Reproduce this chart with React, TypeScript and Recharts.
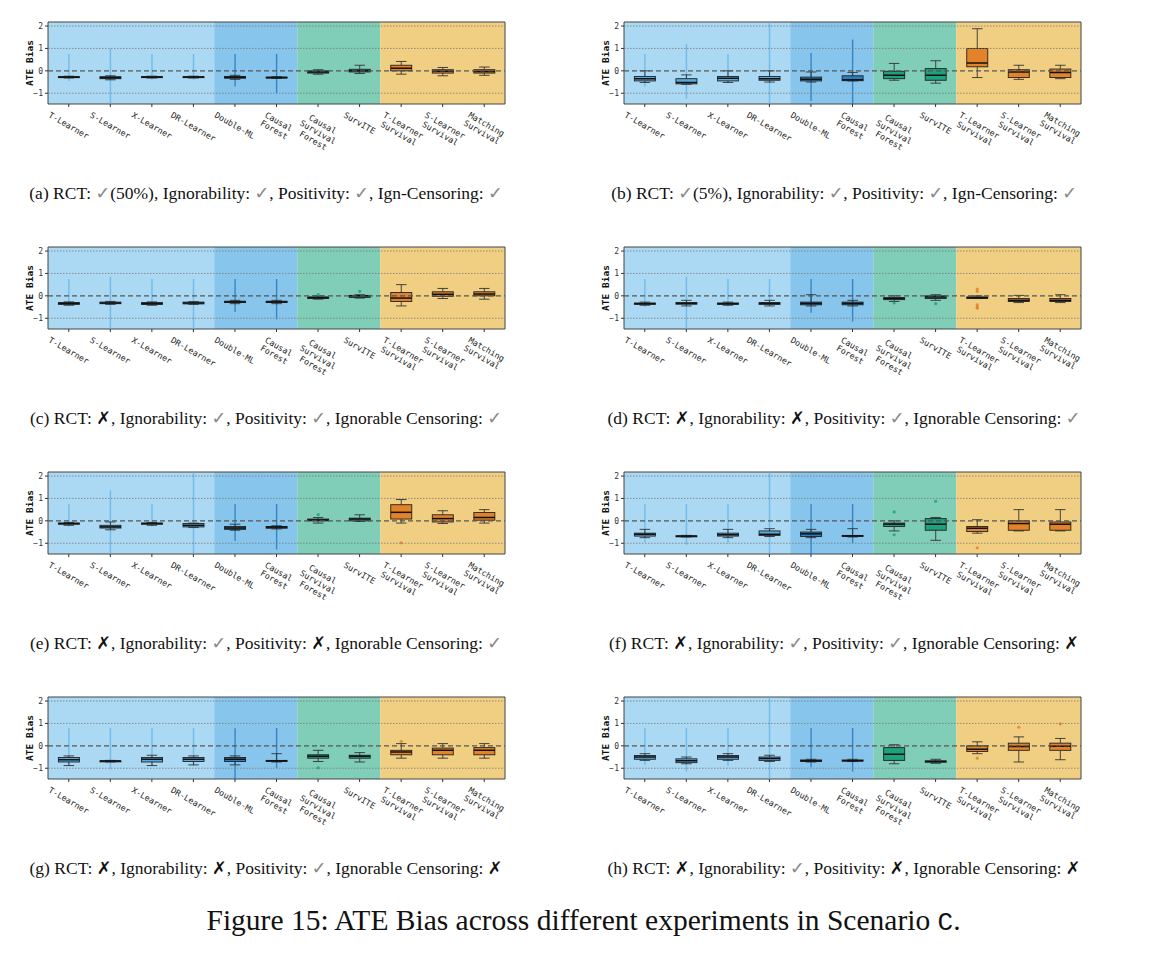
import React from 'react'
import { Bar, ComposedChart, ReferenceArea, ReferenceLine, XAxis, YAxis } from 'recharts'

// categories and their colour groups
const methods = [
    'T-Learner', 'S-Learner', 'X-Learner', 'DR-Learner', 'Double-ML', 'Causal\nForest',
    'Causal\nSurvival\nForest', 'SurvITE', 'T-Learner\nSurvival', 'S-Learner\nSurvival', 'Matching\nSurvival'
]
const methodGroup = [0, 0, 0, 0, 1, 1, 2, 2, 3, 3, 3]
const groupBg = ['#abd8f2', '#88c5ec', '#80cdb8', '#f1cf82']
const groupBox = ['#4fa6dc', '#1d78bd', '#139c76', '#e07a1f']
const groupSpike = ['#5cb2e8', '#1672bd', '#139c76', '#e07a1f']

const yTicks = [-1, 0, 1, 2]
const yDomain = [-1.48, 2.18]

// box stats per method: [whisker low, q1, median, q3, whisker high]
const statsA = [
    [-0.32, -0.3, -0.28, -0.26, -0.24], [-0.4, -0.35, -0.31, -0.26, -0.22], [-0.32, -0.3, -0.28, -0.26, -0.24],
    [-0.32, -0.3, -0.28, -0.26, -0.24], [-0.38, -0.33, -0.29, -0.25, -0.2], [-0.34, -0.32, -0.3, -0.28, -0.26],
    [-0.15, -0.1, -0.05, 0.0, 0.05], [-0.12, -0.05, 0.0, 0.07, 0.25], [-0.15, 0.0, 0.12, 0.25, 0.42],
    [-0.22, -0.1, -0.02, 0.05, 0.15], [-0.2, -0.1, -0.03, 0.05, 0.17]
]
const spikesA = [[-0.45, 0.75], [-1.48, 1.0], [-0.4, 0.75], [-0.4, 0.75], [-0.7, 0.75], [-1.0, 0.75], null, null, null, null, null]
const outliersA = [[], [], [], [], [], [], [], [], [], [], []]

const statsB = [
    [-0.52, -0.45, -0.35, -0.25, 0.0], [-0.6, -0.58, -0.52, -0.35, -0.18], [-0.52, -0.45, -0.33, -0.25, 0.0],
    [-0.5, -0.42, -0.35, -0.25, 0.0], [-0.5, -0.45, -0.37, -0.28, -0.05], [-0.45, -0.44, -0.4, -0.22, -0.07],
    [-0.42, -0.35, -0.2, -0.02, 0.33], [-0.55, -0.42, -0.2, 0.1, 0.45], [-0.3, 0.18, 0.35, 1.0, 1.88],
    [-0.38, -0.3, -0.05, 0.05, 0.25], [-0.35, -0.3, -0.07, 0.08, 0.25]
]
const spikesB = [[-0.7, 0.75], [-1.25, 1.2], [-0.55, 0.75], [-1.48, 2.18], [-1.35, 0.8], [-1.48, 1.4], null, null, null, null, null]
const outliersB = [[], [], [], [], [], [], [], [], [], [], []]

const statsC = [
    [-0.42, -0.38, -0.34, -0.3, -0.27], [-0.38, -0.35, -0.32, -0.28, -0.25], [-0.42, -0.38, -0.35, -0.3, -0.27],
    [-0.38, -0.36, -0.32, -0.28, -0.26], [-0.35, -0.3, -0.27, -0.24, -0.2], [-0.35, -0.3, -0.27, -0.24, -0.2],
    [-0.15, -0.12, -0.08, -0.05, 0.0], [-0.1, -0.07, 0.0, 0.02, 0.05], [-0.45, -0.25, -0.1, 0.15, 0.5],
    [-0.12, -0.02, 0.07, 0.18, 0.33], [-0.15, 0.0, 0.08, 0.18, 0.33]
]
const spikesC = [[-0.42, 0.75], [-1.48, 0.85], [-0.42, 0.75], [-1.48, 0.75], [-0.72, 0.75], [-1.05, 0.75], null, null, null, null, null]
const outliersC = [[], [], [], [], [], [], [0.05], [0.2], [], [], []]

const statsD = [
    [-0.42, -0.38, -0.35, -0.32, -0.28], [-0.45, -0.37, -0.34, -0.3, -0.2], [-0.42, -0.38, -0.35, -0.32, -0.28],
    [-0.45, -0.38, -0.34, -0.3, -0.2], [-0.45, -0.4, -0.34, -0.28, 0.05], [-0.45, -0.4, -0.34, -0.28, -0.2],
    [-0.25, -0.17, -0.12, -0.08, 0.0], [-0.2, -0.12, -0.05, 0.0, 0.05], [-0.12, -0.12, -0.08, -0.05, 0.0],
    [-0.3, -0.25, -0.2, -0.12, 0.02], [-0.3, -0.25, -0.2, -0.12, 0.05]
]
const spikesD = [[-0.5, 0.75], [-1.48, 0.85], [-0.5, 0.75], [-0.45, 0.75], [-0.75, 0.75], [-1.15, 0.75], null, null, null, null, null]
const outliersD = [[], [], [], [], [], [], [-0.32], [-0.35], [0.3, 0.2, -0.4, -0.5, -0.55], [], []]

const statsE = [
    [-0.2, -0.15, -0.12, -0.1, -0.07], [-0.4, -0.32, -0.27, -0.2, -0.05], [-0.2, -0.15, -0.12, -0.1, -0.07],
    [-0.3, -0.27, -0.2, -0.12, -0.1], [-0.42, -0.38, -0.32, -0.25, -0.15], [-0.36, -0.33, -0.28, -0.25, -0.22],
    [-0.1, 0.0, 0.04, 0.08, 0.15], [-0.03, 0.0, 0.08, 0.12, 0.27], [-0.1, 0.08, 0.38, 0.72, 0.95],
    [-0.12, -0.05, 0.1, 0.27, 0.45], [-0.1, 0.03, 0.15, 0.37, 0.5]
]
const spikesE = [[-0.25, 0.75], [-1.48, 1.35], [-0.25, 0.75], [-1.48, 2.18], [-0.9, 0.75], [-1.28, 0.75], null, null, null, null, null]
const outliersE = [[], [], [], [], [], [], [0.28], [], [-0.98], [], []]

const statsF = [
    [-0.75, -0.68, -0.6, -0.55, -0.38], [-0.72, -0.7, -0.68, -0.67, -0.65], [-0.75, -0.68, -0.62, -0.55, -0.38],
    [-0.7, -0.65, -0.6, -0.45, -0.35], [-0.75, -0.7, -0.58, -0.5, -0.38], [-0.72, -0.7, -0.67, -0.65, -0.35],
    [-0.45, -0.25, -0.15, -0.1, 0.0], [-0.87, -0.42, -0.15, 0.1, 0.15], [-0.55, -0.48, -0.33, -0.25, 0.05],
    [-0.45, -0.42, -0.12, 0.0, 0.5], [-0.45, -0.42, -0.15, -0.05, 0.5]
]
const spikesF = [[-0.95, 0.75], [-1.08, 0.75], [-1.0, 0.75], [-1.48, 2.18], [-1.48, 0.75], [-1.0, 0.75], null, null, null, null, null]
const outliersF = [[], [], [], [], [], [], [0.4, -0.62], [0.87], [-1.2], [], []]

const statsG = [
    [-0.88, -0.72, -0.62, -0.52, -0.45], [-0.72, -0.7, -0.68, -0.67, -0.65], [-0.88, -0.72, -0.6, -0.52, -0.42],
    [-0.85, -0.7, -0.6, -0.52, -0.45], [-0.85, -0.7, -0.6, -0.52, -0.45], [-0.72, -0.7, -0.67, -0.65, -0.35],
    [-0.7, -0.55, -0.47, -0.4, -0.2], [-0.72, -0.55, -0.47, -0.42, -0.3], [-0.55, -0.4, -0.27, -0.2, 0.1],
    [-0.55, -0.4, -0.2, -0.1, 0.1], [-0.55, -0.4, -0.2, -0.08, 0.1]
]
const spikesG = [[-0.9, 0.8], [-1.05, 0.78], [-0.9, 0.78], [-0.9, 0.8], [-1.48, 0.78], [-1.0, 0.8], null, null, null, null, null]
const outliersG = [[], [], [], [], [], [], [-0.98], [0.0], [0.2], [], []]

const statsH = [
    [-0.65, -0.6, -0.5, -0.43, -0.35], [-0.8, -0.75, -0.67, -0.58, -0.5], [-0.65, -0.6, -0.5, -0.43, -0.35],
    [-0.7, -0.65, -0.57, -0.5, -0.42], [-0.72, -0.7, -0.67, -0.63, -0.6], [-0.7, -0.68, -0.66, -0.63, -0.6],
    [-0.8, -0.65, -0.37, -0.08, 0.05], [-0.78, -0.73, -0.7, -0.67, -0.6], [-0.35, -0.25, -0.15, 0.0, 0.18],
    [-0.72, -0.2, -0.03, 0.12, 0.4], [-0.62, -0.2, -0.02, 0.12, 0.33]
]
const spikesH = [[-0.85, 0.8], [-1.15, 0.8], [-0.9, 0.8], [-1.48, 2.18], [-0.95, 0.8], [-1.15, 0.8], null, null, null, null, null]
const outliersH = [[], [], [], [], [], [], [], [], [-0.55], [0.83], [0.98]]

const captions = [
    '(a) RCT: ✓(50%), Ignorability: ✓, Positivity: ✓, Ign-Censoring: ✓',
    '(b) RCT: ✓(5%), Ignorability: ✓, Positivity: ✓, Ign-Censoring: ✓',
    '(c) RCT: ✗, Ignorability: ✓, Positivity: ✓, Ignorable Censoring: ✓',
    '(d) RCT: ✗, Ignorability: ✗, Positivity: ✓, Ignorable Censoring: ✓',
    '(e) RCT: ✗, Ignorability: ✓, Positivity: ✗, Ignorable Censoring: ✓',
    '(f) RCT: ✗, Ignorability: ✓, Positivity: ✓, Ignorable Censoring: ✗',
    '(g) RCT: ✗, Ignorability: ✗, Positivity: ✓, Ignorable Censoring: ✗',
    '(h) RCT: ✗, Ignorability: ✓, Positivity: ✗, Ignorable Censoring: ✗',
]

const panels = [
    { stats: statsA, spikes: spikesA, outliers: outliersA },
    { stats: statsB, spikes: spikesB, outliers: outliersB },
    { stats: statsC, spikes: spikesC, outliers: outliersC },
    { stats: statsD, spikes: spikesD, outliers: outliersD },
    { stats: statsE, spikes: spikesE, outliers: outliersE },
    { stats: statsF, spikes: spikesF, outliers: outliersF },
    { stats: statsG, spikes: spikesG, outliers: outliersG },
    { stats: statsH, spikes: spikesH, outliers: outliersH },
]

const colX = [48, 624]
const rowY = [22, 247, 472, 697]
const plotW = 457
const plotH = 82
const axisW = 50

const mono = 'DejaVu Sans Mono'

const XTick = (props: any) => {
    const { x, y, payload } = props
    const lines = String(payload.value).split('\n')
    const fs = 8.3
    const lh = 9.4
    const W = Math.max(...lines.map((l) => l.length)) * fs * 0.602
    const H = lines.length * lh
    const a = Math.PI / 6
    const bh = W * Math.sin(a) + H * Math.cos(a)
    return (
        <g transform={`translate(${x},${y + 1 + bh / 2}) rotate(30)`}>
            {lines.map((l, i) => (
                <text key={i} x={0} y={(i - (lines.length - 1) / 2) * lh} textAnchor="middle"
                    dominantBaseline="central" fontFamily={mono} fontSize={fs} fill="#222">
                    {l}
                </text>
            ))}
        </g>
    )
}

// draws spike, whiskers, box, median and outliers inside the [min, max] range bar
const BoxShape = (props: any) => {
    const { x, y, width, height, payload } = props
    const [lo, hi] = payload.range
    const py = (v: number) => y + ((hi - v) / (hi - lo)) * height
    const cx = x + width / 2
    const g = payload.group
    const [wl, q1, md, q3, wh] = payload.stats
    const cap = width * 0.5
    return (
        <g>
            {payload.spike && (
                <line x1={cx} x2={cx} y1={py(payload.spike[1])} y2={py(payload.spike[0])}
                    stroke={groupSpike[g]} strokeWidth={1.4} strokeOpacity={0.75} />
            )}
            <line x1={cx} x2={cx} y1={py(wh)} y2={py(q3)} stroke="#333" strokeWidth={0.9} />
            <line x1={cx} x2={cx} y1={py(q1)} y2={py(wl)} stroke="#333" strokeWidth={0.9} />
            <line x1={cx - cap / 2} x2={cx + cap / 2} y1={py(wh)} y2={py(wh)} stroke="#333" strokeWidth={0.9} />
            <line x1={cx - cap / 2} x2={cx + cap / 2} y1={py(wl)} y2={py(wl)} stroke="#333" strokeWidth={0.9} />
            <rect x={x} y={py(q3)} width={width} height={Math.max(py(q1) - py(q3), 1)}
                fill={groupBox[g]} fillOpacity={0.9} stroke="#222" strokeWidth={0.9} />
            <line x1={x} x2={x + width} y1={py(md)} y2={py(md)} stroke="#111" strokeWidth={1.5} />
            {payload.outliers.map((o: number, i: number) => (
                <circle key={i} cx={cx} cy={py(o)} r={1.6} fill={groupBox[g]} fillOpacity={0.75} />
            ))}
        </g>
    )
}

function Panel({ index }: { index: number }) {
    const p = panels[index]
    const data = methods.map((name, i) => {
        const vals = [...p.stats[i], ...(p.spikes[i] ?? []), ...p.outliers[i]]
        return {
            name,
            group: methodGroup[i],
            stats: p.stats[i],
            spike: p.spikes[i],
            outliers: p.outliers[i],
            range: [Math.min(...vals), Math.max(...vals)],
        }
    })
    const left = colX[index % 2] - axisW
    const top = rowY[Math.floor(index / 2)] - 5
    const groupSpans = [[0, 3], [4, 5], [6, 7], [8, 10]]
    return (
        <div style={{ position: 'absolute', left, top }}>
            <ComposedChart width={axisW + plotW + 10} height={5 + plotH + 60} data={data}
                margin={{ top: 5, right: 10, left: 0, bottom: 0 }} barCategoryGap="25%">
                <XAxis dataKey="name" type="category" interval={0} tick={<XTick />} tickSize={3}
                    tickLine={{ stroke: '#333' }} axisLine={false} height={60} />
                <YAxis type="number" domain={yDomain} ticks={yTicks} allowDataOverflow width={axisW}
                    axisLine={false} tickSize={3} tickLine={{ stroke: '#333' }}
                    tick={{ fontSize: 8, fontFamily: mono, fill: '#333' }}
                    tickFormatter={(v: number) => (v < 0 ? '\u2212' + Math.abs(v) : String(v))}
                    label={{
                        content: (lp: any) => {
                            const vb = lp.viewBox
                            const lx = vb.x + axisW - 19
                            const ly = vb.y + vb.height / 2
                            return (
                                <text x={lx} y={ly} transform={`rotate(-90 ${lx} ${ly})`} textAnchor="middle"
                                    dominantBaseline="central" fontFamily={mono} fontWeight="bold" fontSize={9.5} fill="#111">
                                    ATE Bias
                                </text>
                            )
                        },
                    }} />
                {groupSpans.map(([a, b], gi) => (
                    <ReferenceArea key={gi} x1={methods[a]} x2={methods[b]} fill={groupBg[gi]} fillOpacity={1}
                        stroke="none" ifOverflow="visible" />
                ))}
                {yTicks.filter((t) => t !== 0).map((t) => (
                    <ReferenceLine key={t} y={t} stroke="#7a7a7a" strokeWidth={0.8} strokeDasharray="1.5 1.5" />
                ))}
                <ReferenceLine y={0} stroke="#555" strokeWidth={1.2} strokeDasharray="5 3" />
                <Bar dataKey="range" shape={<BoxShape />} isAnimationActive={false} />
                <ReferenceArea x1={methods[0]} x2={methods[methods.length - 1]} y1={yDomain[0]} y2={yDomain[1]}
                    fill="none" stroke="#444" strokeWidth={1} ifOverflow="visible" />
            </ComposedChart>
        </div>
    )
}

function Caption({ text, cx, cy }: { text: string; cx: number; cy: number }) {
    const parts = text.split(/([✓✗])/)
    return (
        <div style={{
            position: 'absolute', left: cx - 300, top: cy - 12, width: 600, textAlign: 'center',
            fontFamily: '"Liberation Serif", serif', fontSize: 17.5, lineHeight: '24px', color: '#111', whiteSpace: 'nowrap'
        }}>
            {parts.map((s, i) =>
                s === '✓' ? <span key={i} style={{ color: '#8a8a8a', fontFamily: 'DejaVu Sans' }}>✓</span>
                    : s === '✗' ? <span key={i} style={{ color: '#111', fontFamily: 'DejaVu Sans', fontWeight: 'bold' }}>✗</span>
                        : <span key={i}>{s}</span>
            )}
        </div>
    )
}

export default function App() {
    return (
        <div style={{ position: 'absolute', left: 0, top: 0, width: 1167, height: 958, background: '#fff' }}>
            {panels.map((_, i) => <Panel key={i} index={i} />)}
            {captions.map((c, i) => (
                <Caption key={i} text={c} cx={i % 2 === 0 ? 266 : 844} cy={rowY[Math.floor(i / 2)] + 171} />
            ))}
            <div style={{
                position: 'absolute', left: 0, top: 901, width: 1167, textAlign: 'center',
                fontFamily: '"Liberation Serif", serif', fontSize: 29.5, lineHeight: '38px', color: '#111'
            }}>
                Figure 15: ATE Bias across different experiments in Scenario <span style={{ fontFamily: '"Liberation Mono", monospace', fontSize: 26 }}>C</span>.
            </div>
        </div>
    )
}
